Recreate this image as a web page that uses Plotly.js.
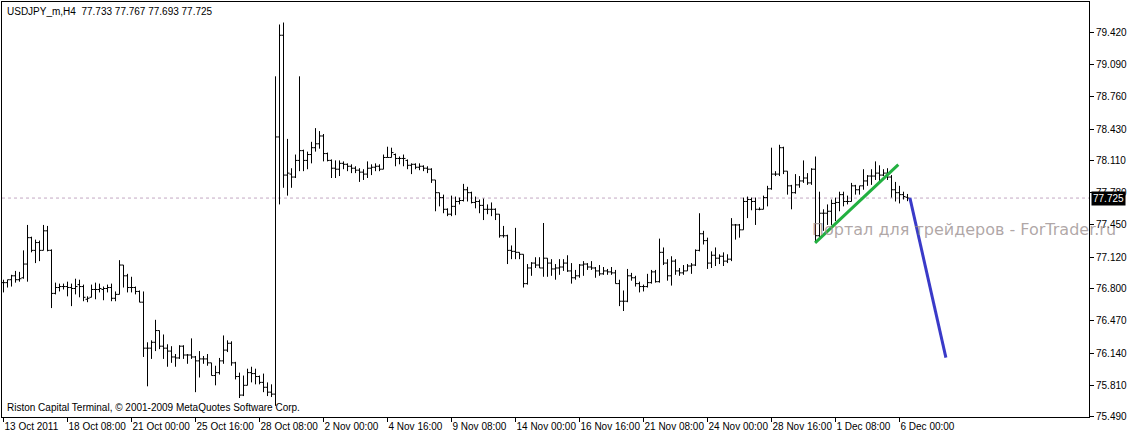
<!DOCTYPE html>
<html>
<head>
<meta charset="utf-8">
<script src="https://cdn.plot.ly/plotly-3.0.1.min.js"></script>
<style>html,body{margin:0;padding:0;background:#fff;}#chart{width:1127px;height:436px;}</style>
</head>
<body>
<div id="chart"></div>
<script>
// USDJPY_m H4 bars (13 Oct 2011 16:00 .. 6 Dec 2011 08:00), index = bar number
const opens = [
 76.86,76.86,76.89,76.93,76.89,76.91,77.05,77.32,77.19,77.27,
 77.19,77.39,77.19,76.75,76.81,76.82,76.82,76.81,76.80,76.84,
 76.82,76.69,76.71,76.79,76.79,76.79,76.80,76.81,76.70,76.74,
 77.04,76.93,76.81,76.81,76.77,76.66,76.19,76.19,76.25,76.37,
 76.21,76.19,76.16,76.10,76.09,76.21,76.12,76.12,76.10,76.06,
 76.08,76.08,76.04,75.91,75.94,76.06,76.17,76.24,76.04,75.90,
 75.71,75.81,75.94,75.93,75.90,75.84,75.79,75.74,75.72,78.35,
 79.39,77.96,77.97,77.94,78.11,78.21,78.11,78.17,78.24,78.28,
 78.36,78.18,78.11,78.03,78.02,78.08,78.07,78.05,78.03,78.01,
 77.99,77.97,78.03,78.04,78.05,78.02,78.14,78.14,78.17,78.13,
 78.13,78.11,78.06,78.07,78.04,78.05,78.03,78.02,77.91,77.78,
 77.73,77.61,77.56,77.64,77.69,77.70,77.81,77.78,77.68,77.69,
 77.65,77.61,77.61,77.61,77.56,77.34,77.34,77.19,77.18,77.17,
 77.15,76.85,77.01,77.06,77.04,77.01,77.11,77.06,77.00,77.01,
 77.02,77.06,76.98,76.91,76.93,77.04,77.05,77.02,77.01,76.98,
 76.95,76.98,76.97,76.96,76.85,76.67,76.67,76.93,76.91,76.85,
 76.82,76.82,76.86,76.97,76.87,77.17,77.06,76.93,77.08,76.98,
 76.96,76.98,77.03,77.04,77.19,77.36,77.29,77.06,77.14,77.11,
 77.13,77.08,77.10,77.45,77.45,77.40,77.69,77.71,77.69,77.61,
 77.61,77.73,77.82,77.97,77.97,78.24,78.00,77.85,77.78,77.86,
 77.90,77.93,77.88,78.02,77.34,77.57,77.57,77.59,77.67,77.68,
 77.76,77.69,77.69,77.85,77.81,77.85,77.90,77.95,77.95,77.98,
 77.96,77.98,77.94,77.81,77.78,77.76,77.733];
const highs = [
 76.89,76.89,76.94,76.98,76.97,77.19,77.45,77.33,77.30,77.29,
 77.45,77.44,77.20,76.86,76.85,76.85,76.87,76.85,76.90,76.89,
 76.84,76.72,76.84,76.86,76.85,76.82,76.84,76.85,76.77,77.09,
 77.04,76.95,76.92,76.82,76.78,76.77,76.25,76.27,76.48,76.37,
 76.33,76.23,76.21,76.13,76.22,76.22,76.13,76.29,76.11,76.16,
 76.11,76.13,76.04,76.01,76.09,76.32,76.27,76.26,76.05,75.94,
 75.91,75.98,76.00,75.98,75.91,75.93,75.84,75.82,78.97,79.50,
 79.52,78.33,78.03,78.17,78.97,78.22,78.20,78.30,78.44,78.41,
 78.38,78.19,78.12,78.11,78.11,78.10,78.08,78.07,78.05,78.03,
 78.02,78.10,78.07,78.08,78.07,78.17,78.25,78.24,78.18,78.15,
 78.17,78.12,78.08,78.08,78.08,78.06,78.05,78.03,77.91,77.78,
 77.76,77.62,77.75,77.74,77.73,77.87,77.84,77.79,77.74,77.71,
 77.72,77.66,77.68,77.62,77.56,77.44,77.35,77.24,77.42,77.17,
 77.15,77.05,77.07,77.12,77.12,77.47,77.11,77.10,77.05,77.10,
 77.10,77.14,77.06,76.99,77.05,77.08,77.06,77.08,77.02,77.04,
 77.02,77.00,77.02,76.99,76.89,76.78,77.00,76.96,76.93,76.87,
 76.84,76.95,76.99,76.99,77.31,77.22,77.10,77.13,77.10,77.01,
 77.04,77.05,77.06,77.20,77.57,77.39,77.32,77.18,77.22,77.15,
 77.17,77.15,77.52,77.46,77.46,77.73,77.74,77.73,77.73,77.63,
 77.75,77.85,78.24,78.00,78.27,78.25,78.00,77.86,77.97,77.95,
 78.11,77.98,78.03,78.15,77.79,77.61,77.66,77.71,77.73,77.79,
 77.79,77.75,77.88,77.86,77.85,78.02,77.96,78.02,78.10,78.06,
 78.02,78.03,77.96,77.89,77.85,77.79,77.767];
const lows = [
 76.76,76.81,76.82,76.86,76.87,76.90,76.87,77.17,77.06,77.08,
 77.19,77.18,76.60,76.74,76.77,76.79,76.72,76.62,76.74,76.71,
 76.67,76.66,76.71,76.69,76.76,76.68,76.76,76.67,76.67,76.74,
 76.81,76.76,76.76,76.74,76.66,76.10,75.80,76.08,76.16,76.18,
 76.08,76.00,76.04,76.00,76.08,76.08,76.03,76.08,75.74,75.89,
 76.03,76.01,75.91,75.81,75.92,76.03,76.15,76.01,75.87,75.68,
 75.70,75.81,75.84,75.82,75.82,75.74,75.70,75.69,75.60,77.66,
 77.83,77.75,77.83,77.93,78.00,78.00,78.02,78.08,78.20,78.23,
 78.10,78.10,77.93,77.93,77.95,78.02,78.00,77.98,77.98,77.89,
 77.91,77.93,77.96,78.00,78.00,78.02,78.14,78.14,78.05,78.07,
 78.05,78.02,77.97,78.02,78.01,78.00,77.98,77.88,77.59,77.64,
 77.57,77.54,77.54,77.55,77.66,77.69,77.69,77.67,77.62,77.57,
 77.50,77.56,77.54,77.50,77.32,77.32,77.05,77.10,77.10,77.10,
 76.81,76.84,76.93,77.01,77.01,76.92,76.92,76.93,76.89,76.94,
 76.98,76.97,76.85,76.89,76.91,76.93,76.99,76.99,76.91,76.93,
 76.94,76.94,76.94,76.85,76.62,76.57,76.66,76.88,76.82,76.76,
 76.77,76.81,76.85,76.86,76.86,77.04,76.88,76.83,76.94,76.93,
 76.94,76.98,76.95,77.03,77.18,77.25,77.00,77.01,77.03,77.05,
 77.03,77.06,77.08,77.30,77.32,77.40,77.52,77.60,77.45,77.60,
 77.61,77.64,77.81,77.95,77.95,77.97,77.76,77.61,77.77,77.83,
 77.88,77.86,77.86,77.27,77.30,77.39,77.45,77.45,77.49,77.59,
 77.64,77.66,77.69,77.76,77.76,77.81,77.85,77.86,77.91,77.88,
 77.95,77.91,77.73,77.69,77.67,77.71,77.693];
const closes = [
 76.86,76.89,76.93,76.89,76.90,77.05,77.32,77.19,77.27,77.19,
 77.39,77.19,76.75,76.81,76.82,76.82,76.81,76.80,76.82,76.82,
 76.71,76.70,76.79,76.79,76.80,76.80,76.81,76.70,76.74,77.04,
 76.93,76.81,76.81,76.77,76.66,76.19,76.19,76.25,76.37,76.21,
 76.19,76.16,76.10,76.09,76.21,76.12,76.12,76.10,76.06,76.08,
 76.08,76.04,75.91,75.94,76.06,76.17,76.24,76.04,75.90,75.71,
 75.81,75.94,75.93,75.90,75.84,75.79,75.74,75.72,78.35,79.39,
 77.96,77.98,77.94,78.11,78.21,78.11,78.17,78.24,78.28,78.36,
 78.18,78.11,78.03,78.02,78.08,78.07,78.05,78.03,78.01,77.99,
 77.97,78.03,78.04,78.05,78.02,78.14,78.14,78.19,78.13,78.13,
 78.13,78.06,78.07,78.04,78.05,78.03,78.02,77.91,77.78,77.73,
 77.61,77.56,77.64,77.69,77.70,77.81,77.78,77.68,77.69,77.65,
 77.61,77.61,77.61,77.56,77.34,77.34,77.19,77.18,77.17,77.15,
 76.85,77.01,77.06,77.04,77.01,77.11,77.06,77.00,77.01,77.02,
 77.06,76.98,76.91,76.93,77.04,77.05,77.02,77.01,76.98,76.95,
 76.98,76.97,76.96,76.85,76.67,76.67,76.93,76.91,76.85,76.82,
 76.82,76.86,76.97,76.87,77.17,77.06,76.93,77.08,76.98,76.96,
 76.98,77.03,77.04,77.19,77.36,77.29,77.06,77.14,77.11,77.13,
 77.08,77.10,77.45,77.45,77.40,77.69,77.71,77.69,77.61,77.61,
 77.73,77.82,77.97,77.97,78.24,78.00,77.85,77.78,77.86,77.90,
 77.93,77.88,78.02,77.34,77.57,77.57,77.59,77.67,77.68,77.76,
 77.69,77.69,77.85,77.81,77.85,77.90,77.95,77.95,77.98,77.96,
 77.98,77.94,77.81,77.78,77.76,77.74,77.725];

// time-axis labels (bar index -> label)
const xTickIdx = [0,16,32,48,64,80,96,112,128,144,160,176,192,208,224];
const xTickText = ["13 Oct 2011","18 Oct 08:00","21 Oct 00:00","25 Oct 16:00","28 Oct 08:00",
  "2 Nov 00:00","4 Nov 16:00","9 Nov 08:00","14 Nov 00:00","16 Nov 16:00","21 Nov 08:00",
  "24 Nov 00:00","28 Nov 16:00","1 Dec 08:00","6 Dec 00:00"];
// price-scale labels
const yTickVals = [79.420,79.090,78.760,78.430,78.110,77.780,77.450,77.120,76.800,76.470,76.140,75.810,75.490];

// hand-drawn lines (bar index, price)
const trendX = [202.9, 223.7];
const trendY = [77.267, 78.066];
const projX = [226.6, 235.6];
const projY = [77.727, 76.094];

const symbol = "USDJPY_m,H4";
const lastBar = opens.length - 1;
const barIdx = opens.map((_, i) => i);
const fmt = v => v.toFixed(3);

const font = {family: "Liberation Sans, Arial, sans-serif", size: 10, color: "#000"};

const traces = [
  {
    type: "ohlc", x: barIdx, open: opens, high: highs, low: lows, close: closes,
    increasing: {line: {color: "#000", width: 1}},
    decreasing: {line: {color: "#000", width: 1}},
    tickwidth: 0.5, hoverinfo: "skip", showlegend: false
  },
  {type: "scatter", mode: "lines", x: trendX, y: trendY,
   line: {color: "#22b040", width: 3}, hoverinfo: "skip", showlegend: false},
  {type: "scatter", mode: "lines", x: projX, y: projY,
   line: {color: "#3a3ac8", width: 3}, hoverinfo: "skip", showlegend: false}
];

const layout = {
  width: 1127, height: 436,
  margin: {l: 2, r: 38, t: 2, b: 19, pad: 0},
  paper_bgcolor: "#fff", plot_bgcolor: "#fff",
  font: font,
  showlegend: false,
  xaxis: {
    range: [-0.375, 271.375], fixedrange: true,
    showgrid: false, zeroline: false,
    showline: true, mirror: true, linecolor: "#000", linewidth: 1,
    ticks: "outside", ticklen: 4, tickcolor: "#000", tickwidth: 1,
    tickmode: "array", tickvals: xTickIdx, ticktext: xTickText,
    ticklabelposition: "outside right", tickangle: 0,
    ticklabeloverflow: "allow",
    tickfont: font,
    rangeslider: {visible: false}
  },
  yaxis: {
    side: "right", range: [75.486, 79.730], fixedrange: true,
    showgrid: false, zeroline: false,
    showline: true, mirror: true, linecolor: "#000", linewidth: 1,
    ticks: "outside", ticklen: 4, tickcolor: "#000", tickwidth: 1,
    tickmode: "array", tickvals: yTickVals, ticktext: yTickVals.map(fmt),
    ticklabeloverflow: "allow",
    tickfont: font
  },
  shapes: [
    {type: "line", xref: "paper", x0: 0, x1: 1, yref: "y",
     y0: closes[lastBar], y1: closes[lastBar],
     line: {color: "#c4a8c4", width: 1, dash: "dot"}, layer: "below"}
  ],
  annotations: [
    {xref: "paper", yref: "paper", x: 0, y: 1, xshift: 3, yshift: -2,
     xanchor: "left", yanchor: "top", showarrow: false, align: "left",
     text: symbol + "  " + [opens[lastBar], highs[lastBar], lows[lastBar], closes[lastBar]].map(fmt).join(" "),
     font: font},
    {xref: "paper", yref: "paper", x: 0, y: 0, xshift: 3, yshift: 2,
     xanchor: "left", yanchor: "bottom", showarrow: false, align: "left",
     text: "Riston Capital Terminal, © 2001-2009 MetaQuotes Software Corp.",
     font: font},
    {xref: "paper", yref: "paper", x: 0.743, y: 0.453,
     xanchor: "left", yanchor: "middle", showarrow: false,
     text: "Портал для трейдеров - ForTrader.ru",
     font: {family: "DejaVu Sans, Verdana, sans-serif", size: 16, color: "rgba(150,138,138,0.75)"}},
    {xref: "paper", yref: "y", x: 1, y: closes[lastBar], xshift: 2,
     xanchor: "left", yanchor: "middle", showarrow: false,
     text: fmt(closes[lastBar]), bgcolor: "#000", borderpad: 1,
     font: {family: font.family, size: 10, color: "#fff"}}
  ]
};

Plotly.newPlot("chart", traces, layout, {staticPlot: true, displayModeBar: false});
</script>
</body>
</html>
